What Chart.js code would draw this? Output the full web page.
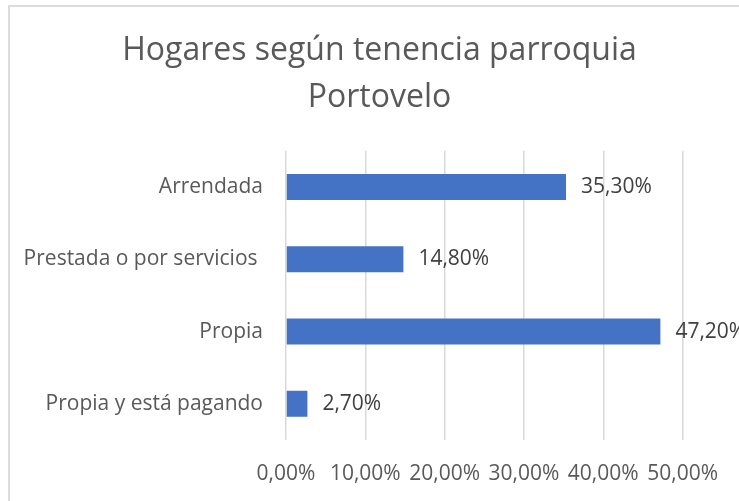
<!DOCTYPE html>
<html><head><meta charset="utf-8">
<script src="https://cdn.jsdelivr.net/npm/chart.js@4"></script>
<style>
html,body{margin:0;padding:0;background:#fff;overflow:hidden;width:739px;height:501px;}
#c{position:absolute;left:0;top:0;}
#frame{position:absolute;left:8px;top:5px;width:800px;height:600px;border:2px solid #dcdcdc;pointer-events:none;}
</style></head><body>
<canvas id="c" width="739" height="501"></canvas>
<div id="frame"></div>
<script>
const categories = ['Arrendada', 'Prestada o por servicios ', 'Propia', 'Propia y está pagando'];
const values = [35.3, 14.8, 47.2, 2.7];
const xTicks = [0, 10, 20, 30, 40, 50];
const titleLines = ['Hogares según tenencia parroquia', 'Portovelo'];

const FONT = "'Open Sans', 'Noto Sans', sans-serif";
const fmt = v => v.toFixed(2).replace('.', ',') + '%';

const dataLabels = {
  id: 'dataLabels',
  afterDatasetsDraw(chart) {
    const ctx = chart.ctx;
    const meta = chart.getDatasetMeta(0);
    ctx.save();
    ctx.font = "21px " + FONT;
    ctx.fillStyle = '#404040';
    ctx.textAlign = 'left';
    ctx.textBaseline = 'middle';
    meta.data.forEach((bar, i) => {
      ctx.fillText(fmt(values[i]), bar.x + 15, bar.y);
    });
    ctx.restore();
  }
};

// let the category labels use the full left margin (no clipping at the layout padding)
const widenLabelArea = {
  id: 'widenLabelArea',
  afterLayout(chart) {
    const y = chart.scales.y;
    y.width = y.right;
    y.left = 0;
  }
};

new Chart(document.getElementById('c'), {
  type: 'bar',
  data: {
    labels: categories,
    datasets: [{
      data: values,
      backgroundColor: '#4472C4',
      borderWidth: 0,
      barPercentage: 0.6,
      categoryPercentage: 0.6
    }]
  },
  options: {
    indexAxis: 'y',
    responsive: false,
    animation: false,
    events: [],
    layout: { padding: { left: 75, right: 55, top: 0, bottom: 0 } },
    plugins: {
      legend: { display: false },
      tooltip: { enabled: false },
      title: {
        display: true,
        text: titleLines,
        color: '#595959',
        font: { family: FONT, size: 32, weight: 'normal', lineHeight: 1.45 },
        padding: { top: 28, bottom: 30 }
      }
    },
    scales: {
      x: {
        min: 0, max: 50,
        afterBuildTicks(scale) { scale.ticks = xTicks.map(v => ({ value: v })); },
        afterFit(scale) { scale.height = 61; },
        grid: { color: '#d9d9d9', lineWidth: 1.5, drawTicks: false },
        border: { display: false },
        ticks: {
          color: '#595959',
          font: { family: FONT, size: 21 },
          padding: 21,
          maxRotation: 0,
          callback: v => fmt(v)
        }
      },
      y: {
        afterFit(scale) { scale.width = 211; },
        grid: { display: false, drawTicks: false },
        border: { display: false },
        ticks: {
          color: '#595959',
          font: { family: FONT, size: 21 },
          padding: 23
        }
      }
    }
  },
  plugins: [widenLabelArea, dataLabels]
});
</script>
</body></html>
